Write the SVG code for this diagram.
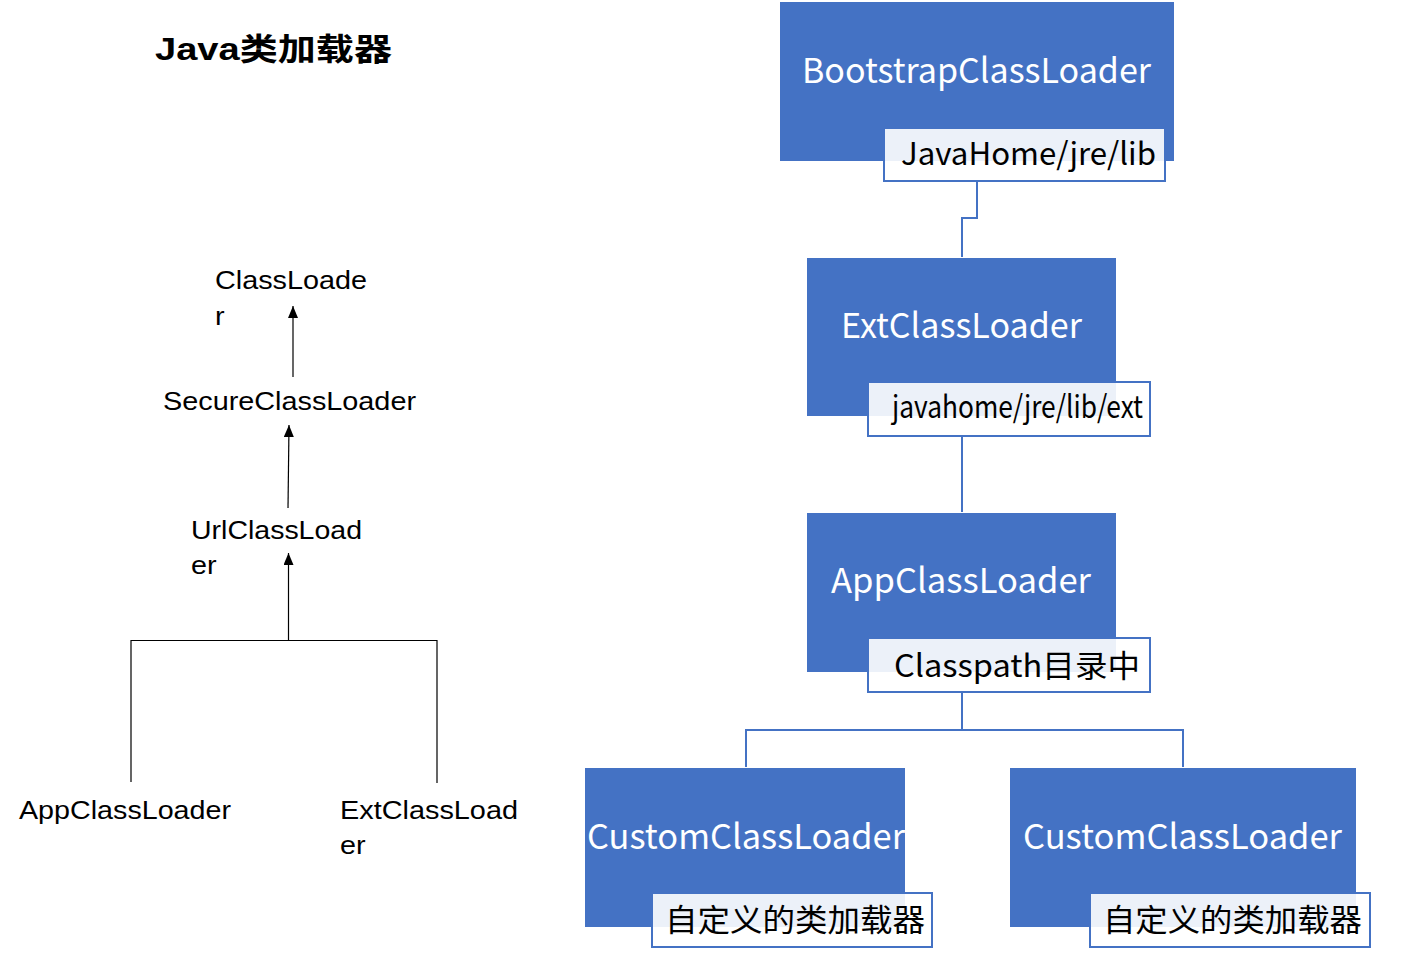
<svg xmlns="http://www.w3.org/2000/svg" width="1406" height="965" viewBox="0 0 1406 965">
<defs>
<style>
.box{fill:#4472C4;}
.lbl{fill:#FFFFFF;fill-opacity:0.9;stroke:#4472C4;stroke-width:2;}
.wt{font-family:"Noto Sans CJK SC","Noto Sans",sans-serif;fill:#FFFFFF;font-size:34px;}
.bt{font-family:"Noto Sans CJK SC","Noto Sans",sans-serif;fill:#000000;font-size:31px;}
.lt{font-family:"Liberation Sans",Arial,"Noto Sans CJK SC",sans-serif;fill:#000000;font-size:25px;}
.conn{fill:none;stroke:#4472C4;stroke-width:2;}
.bl{fill:none;stroke:#000000;stroke-width:1.2;}
</style>
<marker id="arr" viewBox="0 0 12 10" refX="12" refY="5" markerWidth="12" markerHeight="10" markerUnits="userSpaceOnUse" orient="auto">
<path d="M0,0 L12,5 L0,10 Z" fill="#000"/>
</marker>
</defs>
<rect width="1406" height="965" fill="#FFFFFF"/>

<text id="title" x="155" y="60" font-family="'Liberation Sans','Noto Sans CJK SC',sans-serif" font-weight="bold" font-size="31" textLength="237" lengthAdjust="spacingAndGlyphs">Java类加载器</text>

<g id="left-connectors">
<line class="bl" x1="293" y1="377" x2="293" y2="306" marker-end="url(#arr)"/>
<line class="bl" x1="288" y1="508" x2="289" y2="425" marker-end="url(#arr)"/>
<line class="bl" x1="288.5" y1="640" x2="288.5" y2="553" marker-end="url(#arr)"/>
<polyline class="bl" points="131,782 131,640.5 437,640.5 437,783"/>
</g>

<g id="n-classloader"><text class="lt" x="215" y="289" textLength="152" lengthAdjust="spacingAndGlyphs">ClassLoade</text><text class="lt" x="215" y="325" textLength="9.6" lengthAdjust="spacingAndGlyphs">r</text></g>
<g id="n-secure"><text class="lt" x="163" y="410" textLength="253" lengthAdjust="spacingAndGlyphs">SecureClassLoader</text></g>
<g id="n-url"><text class="lt" x="191" y="539" textLength="171" lengthAdjust="spacingAndGlyphs">UrlClassLoad</text><text class="lt" x="191" y="574" textLength="25.6" lengthAdjust="spacingAndGlyphs">er</text></g>
<g id="n-app-left"><text class="lt" x="19" y="819" textLength="212" lengthAdjust="spacingAndGlyphs">AppClassLoader</text></g>
<g id="n-ext-left"><text class="lt" x="340" y="819" textLength="178" lengthAdjust="spacingAndGlyphs">ExtClassLoad</text><text class="lt" x="340" y="854" textLength="25.6" lengthAdjust="spacingAndGlyphs">er</text></g>

<g id="right-connectors">
<polyline class="conn" points="977,181 977,218 962,218 962,257"/>
<line class="conn" x1="962" y1="436" x2="962" y2="512"/>
<polyline class="conn" points="962,692 962,730 746,730 746,767"/>
<polyline class="conn" points="962,730 1183,730 1183,767"/>
</g>

<g id="n-bootstrap">
<rect class="box" x="780" y="2" width="394" height="159"/>
<text class="wt" x="802" y="83" textLength="349" lengthAdjust="spacingAndGlyphs">BootstrapClassLoader</text>
<rect class="lbl" x="884" y="128" width="281" height="53"/>
<text class="bt" x="901" y="165" textLength="255" lengthAdjust="spacingAndGlyphs">JavaHome/jre/lib</text>
</g>

<g id="n-ext">
<rect class="box" x="807" y="258" width="309" height="158"/>
<text class="wt" x="841" y="338" textLength="241" lengthAdjust="spacingAndGlyphs">ExtClassLoader</text>
<rect class="lbl" x="868" y="382" width="282" height="54"/>
<text class="bt" x="892" y="418" font-size="24" textLength="251" lengthAdjust="spacingAndGlyphs">javahome/jre/lib/ext</text>
</g>

<g id="n-app">
<rect class="box" x="807" y="513" width="309" height="159"/>
<text class="wt" x="831" y="593" textLength="260" lengthAdjust="spacingAndGlyphs">AppClassLoader</text>
<rect class="lbl" x="868" y="638" width="282" height="54"/>
<text class="bt" x="894" y="677" textLength="246" lengthAdjust="spacingAndGlyphs">Classpath目录中</text>
</g>

<g id="n-custom1">
<rect class="box" x="585" y="768" width="320" height="159"/>
<text class="wt" x="587" y="849" textLength="318" lengthAdjust="spacingAndGlyphs">CustomClassLoader</text>
<rect class="lbl" x="652" y="893" width="280" height="54"/>
<text class="bt" x="665" y="931" textLength="260" lengthAdjust="spacingAndGlyphs">自定义的类加载器</text>
</g>

<g id="n-custom2">
<rect class="box" x="1010" y="768" width="346" height="159"/>
<text class="wt" x="1023" y="849" textLength="319" lengthAdjust="spacingAndGlyphs">CustomClassLoader</text>
<rect class="lbl" x="1090" y="893" width="280" height="54"/>
<text class="bt" x="1103" y="931" textLength="259" lengthAdjust="spacingAndGlyphs">自定义的类加载器</text>
</g>
</svg>
